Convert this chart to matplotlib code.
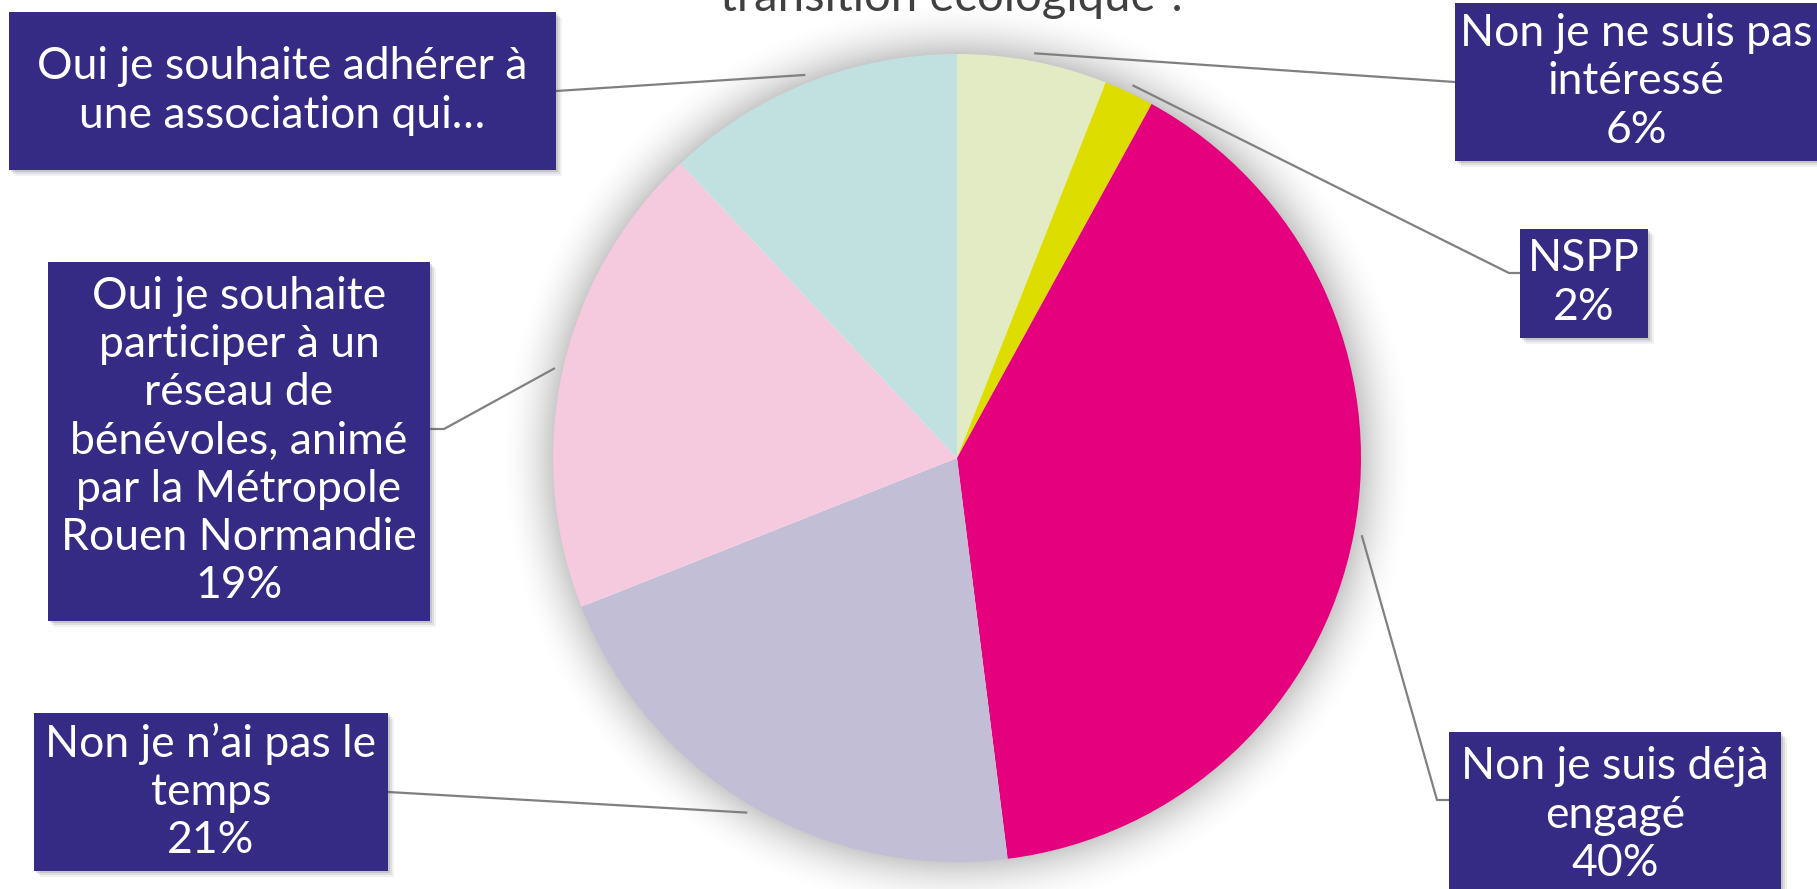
import numpy as np
import matplotlib.pyplot as plt
from matplotlib.patches import Rectangle

plt.rcParams['font.family'] = ['Lato', 'DejaVu Sans']

# slices, clockwise from the top
labels = ["Non je ne suis pas\nintéressé", "NSPP", "Non je suis déjà\nengagé",
          "Non je n’ai pas le\ntemps",
          "Oui je souhaite\nparticiper à un\nréseau de\nbénévoles, animé\npar la Métropole\nRouen Normandie",
          "Oui je souhaite adhérer à\nune association qui…"]
values = [6, 2, 40, 21, 19, 12]
show_pct = [True, True, True, True, True, False]
colors = ['#E3EBC5', '#DEDD00', '#E5007E', '#C1BED6', '#F5C9DE', '#C0E1E0']

W, H = 1817, 889
fig = plt.figure(figsize=(W / 100, H / 100), dpi=100)
ax = fig.add_axes([0, 0, 1, 1])
ax.set_xlim(0, W)
ax.set_ylim(0, H)
ax.axis('off')

cx, cy, r = 957, H - 458, 404
BOX = '#352A84'

# soft shadow around the pie
xx, yy = np.meshgrid(np.arange(W), np.arange(H))
d = np.hypot(xx - cx, yy - cy)
a = np.clip(1 - (d - r) / 55, 0, 1) ** 2 * 0.3
a[d < r - 5] = 0
shade = np.zeros((H, W, 4))
shade[..., :3] = 0.3
shade[..., 3] = a
ax.imshow(shade, extent=(0, W, 0, H), origin='lower', zorder=0, interpolation='bilinear')

wedges, _ = ax.pie(values, colors=colors, startangle=90, counterclock=False,
                   center=(cx, cy), radius=r, frame=True,
                   wedgeprops=dict(linewidth=0))
for w in wedges:
    w.set_zorder(1)
ax.set_xlim(0, W)
ax.set_ylim(0, H)
ax.set_aspect('equal')
ax.axis('off')

# label boxes: x0, y0 (top, px), x1, y1 (bottom, px), elbow point
boxes = [
    (1455, 3, 1830, 161, None),
    (1520, 229, 1648, 338, (1509, 273)),
    (1449, 732, 1781, 900, (1437, 800)),
    (34, 713, 388, 871, None),
    (48, 262, 430, 621, (444, 429)),
    (9, 12, 556, 170, None),
]
attach = ['left', 'left', 'left', 'right', 'right', 'right']
text_pos = [(1636, 82), (1584, 283), (1615, 815), (211, 792), (239, 441), (282, 91)]

for i, (lab, v, pct) in enumerate(zip(labels, values, show_pct)):
    w = wedges[i]
    mid = np.deg2rad((w.theta1 + w.theta2) / 2)
    sx = cx + (r + 8) * np.cos(mid)
    sy = cy + (r + 8) * np.sin(mid)
    x0, y0, x1, y1, elbow = boxes[i]
    bx = x0 if attach[i] == 'left' else x1
    by = H - (y0 + y1) / 2
    pts = [(sx, sy)]
    if elbow is not None:
        pts.append((elbow[0], H - elbow[1]))
        pts.append((bx, H - elbow[1]))
    else:
        pts.append((bx, by))
    px, py = zip(*pts)
    ax.plot(px, py, color='#808080', lw=1.6, zorder=2, solid_capstyle='butt')

    # box shadow
    for k, al in [(6, 0.08), (4, 0.12), (2, 0.18)]:
        ax.add_patch(Rectangle((x0 + k, H - y1 - k), x1 - x0, y1 - y0,
                               facecolor='#555555', alpha=al, lw=0, zorder=3))
    ax.add_patch(Rectangle((x0, H - y1), x1 - x0, y1 - y0, facecolor=BOX,
                           lw=0, zorder=4))
    txt = lab + (f"\n{v}%" if pct else "")
    tx, ty = text_pos[i]
    ax.text(tx, H - ty, txt, ha='center', va='center', color='white', fontsize=32,
            linespacing=1.22, zorder=5, multialignment='center')

ax.text(cx - 3, H - 11, "transition écologique ?", ha='center', va='baseline',
        fontsize=34, color='#404040', zorder=5)

fig.savefig('out.png', dpi=100)
